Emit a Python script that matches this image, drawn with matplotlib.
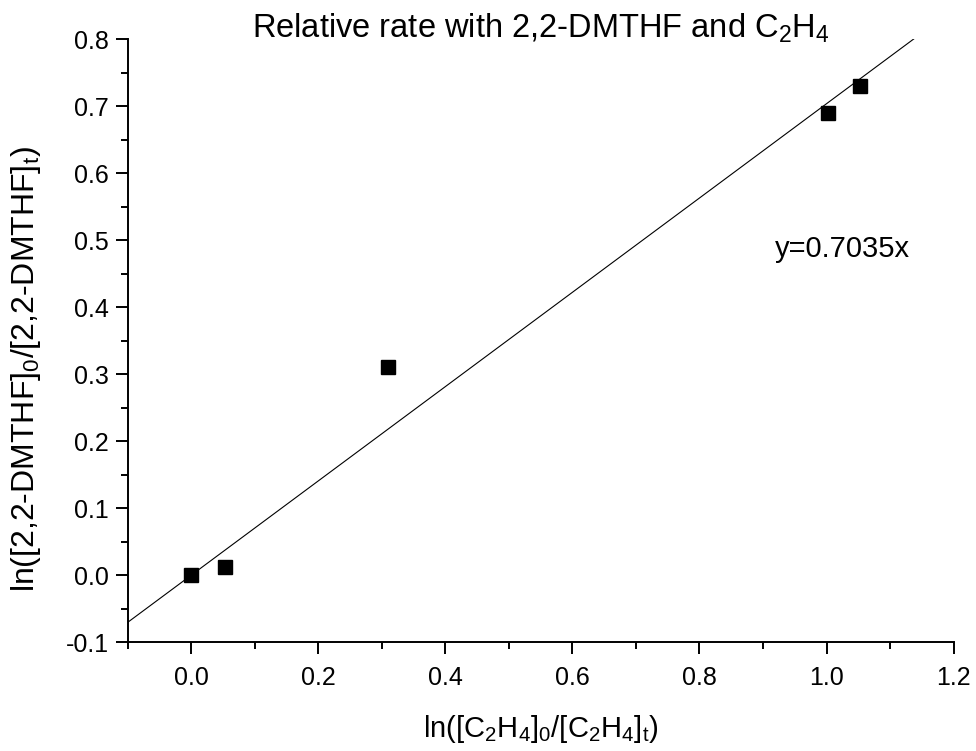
import numpy as np
import matplotlib
matplotlib.use('Agg')
import matplotlib.pyplot as plt
from matplotlib.ticker import MultipleLocator, AutoMinorLocator

plt.rcParams['font.family'] = 'Liberation Sans'
plt.rcParams['mathtext.default'] = 'regular'

# measured points
x_pts = [0.0, 0.053, 0.31, 1.003, 1.053]
y_pts = [0.0, 0.012, 0.31, 0.69, 0.73]
slope = 0.7035

fig = plt.figure(figsize=(9.76, 7.51), dpi=100)
ax = fig.add_axes([0.131, 0.145, 0.846, 0.803])

xf = np.array([-0.1, 1.2])
ax.plot(xf, slope * xf, color='black', linewidth=0.8)
ax.plot(x_pts, y_pts, 's', color='black', markersize=10, clip_on=False)

ax.set_xlim(-0.1, 1.2)
ax.set_ylim(-0.1, 0.8)
ax.xaxis.set_major_locator(MultipleLocator(0.2))
ax.yaxis.set_major_locator(MultipleLocator(0.1))
ax.xaxis.set_minor_locator(AutoMinorLocator(2))
ax.yaxis.set_minor_locator(AutoMinorLocator(2))
ax.xaxis.set_major_formatter(plt.FuncFormatter(lambda v, p: '' if v < -0.05 else f'{v:.1f}'))
ax.yaxis.set_major_formatter(plt.FuncFormatter(lambda v, p: f'{v:.1f}'))

for s in ['top', 'right']:
    ax.spines[s].set_visible(False)
for s in ['left', 'bottom']:
    ax.spines[s].set_linewidth(1.4)
ax.tick_params(which='major', direction='out', length=8.5, width=1.4, labelsize=18)
ax.tick_params(which='minor', direction='out', length=5, width=1.4)
ax.tick_params(axis='y', pad=5)
ax.tick_params(axis='x', pad=9)

ax.set_xlabel('ln([C$_2$H$_4$]$_0$/[C$_2$H$_4$]$_t$)', fontsize=21, labelpad=16)
ax.set_ylabel('ln([2,2-DMTHF]$_0$/[2,2-DMTHF]$_t$)', fontsize=23)
ax.yaxis.set_label_coords(-0.103, 0.453)
ax.text(0.5, 1.003, 'Relative rate with 2,2-DMTHF and C$_2$H$_4$', fontsize=23.5,
        ha='center', va='baseline', transform=ax.transAxes)
ax.text(1.025, 0.475, 'y=0.7035x', fontsize=21, ha='center', va='baseline')

plt.savefig('out.png', dpi=100)
